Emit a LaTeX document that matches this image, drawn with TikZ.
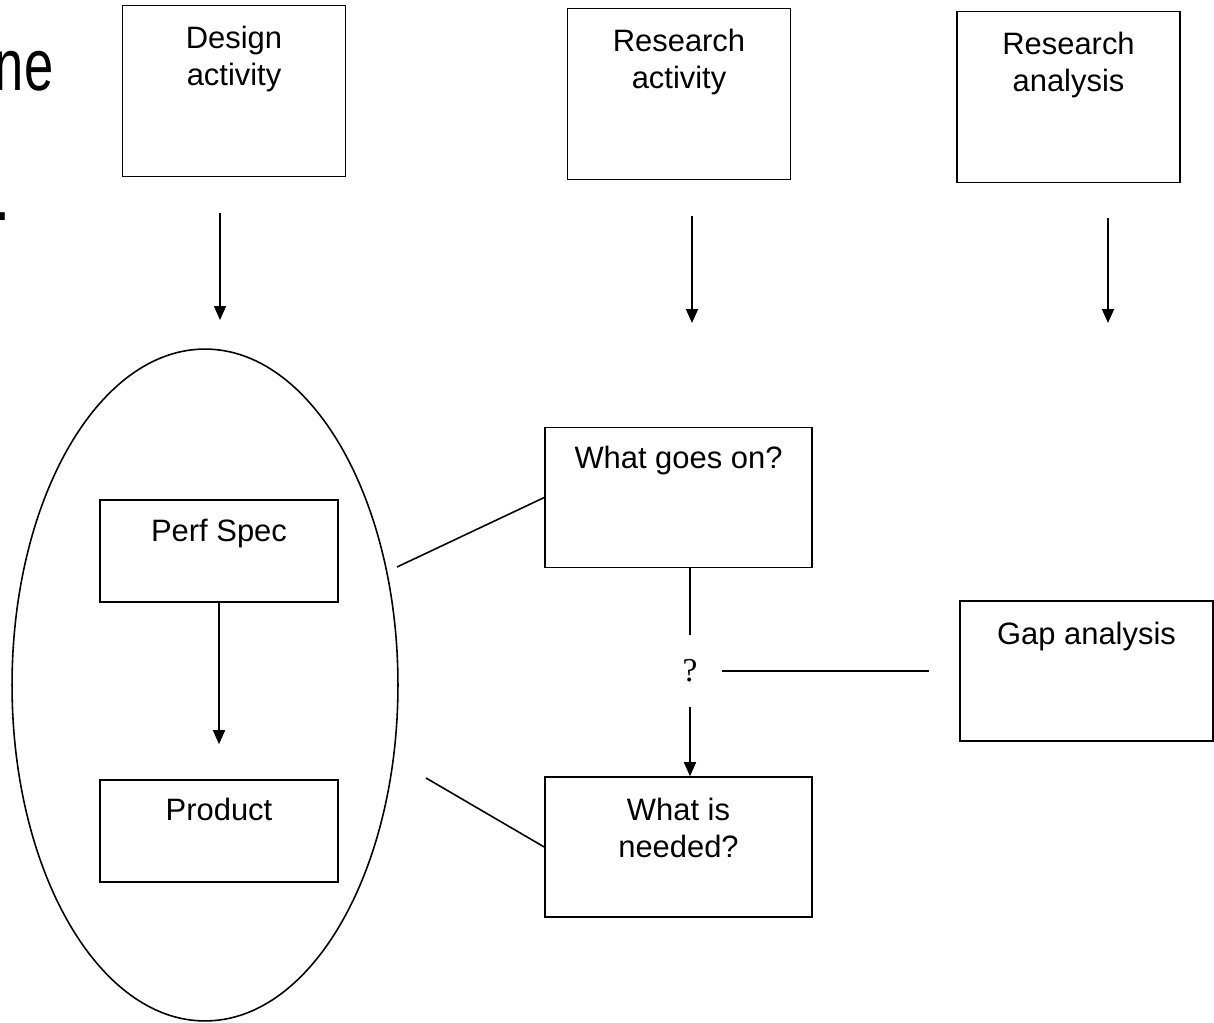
\documentclass[tikz,border=0pt]{standalone}
\usepackage{fontspec}
\setmainfont{Liberation Sans}
\newfontfamily\qfont{Liberation Serif}
\newfontfamily\headfont[FakeStretch=0.72]{Liberation Sans}
\usetikzlibrary{positioning, shapes.geometric, arrows.meta}

\begin{document}
\begin{tikzpicture}[x=0.02cm, y=-0.02cm,
    line width=0.9pt,
    % --- Styles ---
    topBox/.style={
      draw,
      rectangle,
      minimum width=4.46cm,
      minimum height=3.42cm,
      inner sep=0pt
    },
    smallBox/.style={
      draw,
      rectangle,
      minimum width=4.76cm,
      minimum height=2.04cm,
      inner sep=0pt
    },
    questionBox/.style={
      draw,
      rectangle,
      minimum width=5.34cm,
      minimum height=2.8cm,
      inner sep=0pt
    },
    boxText/.style={
      anchor=north,
      inner sep=0pt,
      align=center,
      font=\fontsize{17.6pt}{21pt}\selectfont
    },
    bigText/.style={
      inner sep=0pt,
      font=\headfont\fontsize{41.5pt}{50pt}\selectfont
    },
    arr/.style={-{Triangle[length=0.28cm, width=0.24cm]}}
]
\useasboundingbox (0,0) rectangle (1214,1022);

%=====================
% Cut-off heading text
%=====================
\node[bigText, anchor=base east] (headA) at (54,90) {ne};
\node[bigText, anchor=base west] (headB) at (-5,220) {.};

%=====================
% Top row: activities
%=====================
\node[topBox] (design) at (234,91) {};
\node[boxText] (designTxt) at ([yshift=-0.42cm]design.north) {Design\\activity};
\node[topBox] (resAct) at (679,94) {};
\node[boxText] (resActTxt) at ([yshift=-0.42cm]resAct.north) {Research\\activity};
\node[topBox] (resAna) at (1068.5,97) {};
\node[boxText] (resAnaTxt) at ([yshift=-0.42cm]resAna.north) {Research\\analysis};

\coordinate (designArrA) at (220,213);
\coordinate (designArrB) at (220,320);
\coordinate (resActArrA) at (692,216);
\coordinate (resActArrB) at (692,323);
\coordinate (resAnaArrA) at (1108,218);
\coordinate (resAnaArrB) at (1108,323);
\draw[arr] (designArrA) -- (designArrB);
\draw[arr] (resActArrA) -- (resActArrB);
\draw[arr] (resAnaArrA) -- (resAnaArrB);

%=====================
% Design side: oval with spec and product
%=====================
\node[draw, ellipse, minimum width=7.72cm, minimum height=13.44cm, inner sep=0pt] (designOval) at (205,685) {};
\node[smallBox] (perf) at (219,551) {};
\node[boxText] (perfTxt) at ([yshift=-0.38cm]perf.north) {Perf Spec};
\node[smallBox] (product) at (219,831) {};
\node[boxText] (productTxt) at ([yshift=-0.36cm]product.north) {Product};
\draw[arr, shorten >=0.7cm] (perf) -- (product);

%=====================
% Research side: questions
%=====================
\node[questionBox] (goesOn) at (678.5,497.5) {};
\node[boxText] (goesOnTxt) at ([yshift=-0.38cm]goesOn.north) {What goes on?};
\node[questionBox] (needed) at (678.5,847) {};
\node[boxText] (neededTxt) at ([yshift=-0.42cm]needed.north) {What is\\needed?};
\node[inner sep=0pt, minimum width=1.24cm, minimum height=1.4cm, font=\qfont\fontsize{19pt}{22pt}\selectfont] (quest) at (690,671) {?};
\node[draw, rectangle, minimum width=5.06cm, minimum height=2.8cm, inner sep=0pt] (gap) at (1086.5,671) {};
\node[boxText] (gapTxt) at ([yshift=-0.42cm]gap.north) {Gap analysis};

\coordinate (ovalA) at (397,567);
\coordinate (ovalB) at (426,778);
\draw (ovalA) -- (goesOn.west);
\draw (ovalB) -- (needed.west);
\draw (quest |- goesOn.south) -- (quest);
\draw[arr] (quest) -- (quest |- needed.north);
\draw[shorten >=0.6cm] (quest) -- (gap);

\end{tikzpicture}
\end{document}
